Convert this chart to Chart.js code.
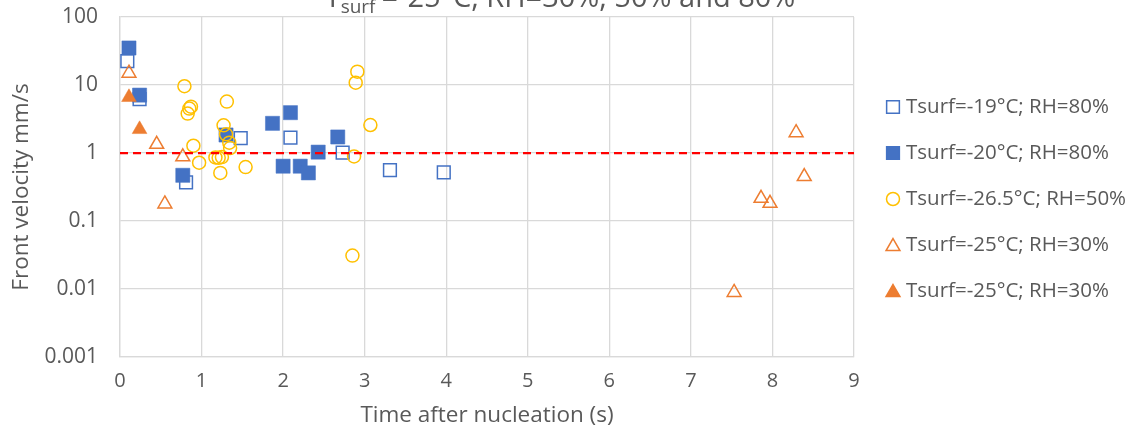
<!DOCTYPE html>
<html>
<head>
<meta charset="utf-8">
<script src="https://cdn.jsdelivr.net/npm/chart.js@4/dist/chart.umd.min.js"></script>
<style>
  html, body { margin: 0; padding: 0; background: #fff; overflow: hidden; }
  #wrap { position: relative; width: 1139px; height: 434px; }
</style>
</head>
<body>
<div id="wrap"><canvas id="c" width="1139" height="434"></canvas></div>
<script>
// Front velocity (mm/s) versus time after nucleation (s), one array per test condition
const t19rh80 = [0.09, 0.24, 0.81, 1.48, 2.09, 2.73, 3.31, 3.97];
const v19rh80 = [22.5, 6.2, 0.37, 1.66, 1.68, 1.01, 0.56, 0.52];

const t20rh80 = [0.11, 0.24, 0.77, 1.30, 1.87, 2.09, 2.00, 2.21, 2.31, 2.43, 2.67];
const v20rh80 = [35, 7.1, 0.47, 1.84, 2.73, 3.92, 0.64, 0.64, 0.51, 1.03, 1.72];

const t265rh50 = [0.79, 0.87, 0.85, 0.83, 1.31, 1.27, 1.30, 1.34, 1.35, 0.90, 0.97, 1.17, 1.21, 1.25, 1.23, 1.54, 2.87, 3.07, 2.91, 2.89, 2.85];
const v265rh50 = [9.6, 4.8, 4.5, 3.8, 5.7, 2.55, 1.88, 1.42, 1.18, 1.28, 0.72, 0.86, 0.85, 0.87, 0.51, 0.62, 0.89, 2.58, 15.7, 10.8, 0.031];

const t25rh30open = [0.11, 0.45, 0.77, 0.55, 7.53, 7.86, 7.97, 8.29, 8.39];
const v25rh30open = [14.9, 1.34, 0.88, 0.178, 0.0089, 0.216, 0.182, 1.99, 0.45];

const t25rh30fill = [0.11, 0.24];
const v25rh30fill = [6.6, 2.23];

// 1 mm/s reference level
const refT = [0, 9];
const refV = [1, 1];

const seriesLabels = [
  'Tsurf=-19°C; RH=80%',
  'Tsurf=-20°C; RH=80%',
  'Tsurf=-26.5°C; RH=50%',
  'Tsurf=-25°C; RH=30%',
  'Tsurf=-25°C; RH=30%'
];

const xTickLabels = ['0', '1', '2', '3', '4', '5', '6', '7', '8', '9'];
const yTickValues = [0.001, 0.01, 0.1, 1, 10, 100];
const yTickLabels = ['0.001', '0.01', '0.1', '1', '10', '100'];

const titleMain = 'T';
const titleSub = 'surf';
const titleRest = '=-25°C, RH=30%, 50% and 80%';
const xTitle = 'Time after nucleation (s)';
const yTitle = 'Front velocity mm/s';

const BLUE = '#4472C4', ORANGE = '#ED7D31', GOLD = '#FFC000', RED = '#FF0000';
const TEXT = '#595959', GRID = '#D9D9D9';
const FONT = "'Open Sans', 'DejaVu Sans', sans-serif";

const pts = (xs, ys) => xs.map((x, i) => ({ x: x, y: ys[i] }));

const datasets = [
  { label: seriesLabels[0], data: pts(t19rh80, v19rh80), pointStyle: 'rect', pointRadius: 9,
    backgroundColor: 'rgba(0,0,0,0)', borderColor: BLUE, pointBorderWidth: 1.5, order: 5 },
  { label: seriesLabels[1], data: pts(t20rh80, v20rh80), pointStyle: 'rect', pointRadius: 10,
    backgroundColor: BLUE, borderColor: BLUE, pointBorderWidth: 0.5, order: 4 },
  { label: seriesLabels[2], data: pts(t265rh50, v265rh50), pointStyle: 'circle', pointRadius: 6.5,
    backgroundColor: 'rgba(0,0,0,0)', borderColor: GOLD, pointBorderWidth: 1.5, order: 3 },
  { label: seriesLabels[3], data: pts(t25rh30open, v25rh30open), pointStyle: 'triangle', pointRadius: 8,
    backgroundColor: 'rgba(0,0,0,0)', borderColor: ORANGE, pointBorderWidth: 1.5, order: 2 },
  { label: seriesLabels[4], data: pts(t25rh30fill, v25rh30fill), pointStyle: 'triangle', pointRadius: 8.5,
    backgroundColor: ORANGE, borderColor: ORANGE, pointBorderWidth: 0.5, order: 1 },
  { label: '', data: pts(refT, refV), showLine: true, borderColor: RED, borderWidth: 2.25,
    borderDash: [8, 5], pointRadius: 0, order: 0, noLegend: true }
];

// Title with subscript, set partly above the top edge
const titlePlugin = {
  id: 'subTitle',
  afterDraw(chart) {
    const ctx = chart.ctx;
    ctx.save();
    ctx.fillStyle = TEXT;
    ctx.textBaseline = 'alphabetic';
    const big = '29px ' + FONT, small = '19px ' + FONT;
    ctx.font = big; const w1 = ctx.measureText(titleMain).width;
    const w3 = ctx.measureText(titleRest).width;
    ctx.font = small; const w2 = ctx.measureText(titleSub).width;
    const total = w1 + w2 + 6 + w3;
    let x = 560 - total / 2;
    const base = 7;
    ctx.font = big; ctx.fillText(titleMain, x, base); x += w1;
    ctx.font = small; ctx.fillText(titleSub, x, base + 6); x += w2 + 6;
    ctx.font = big; ctx.fillText(titleRest, x, base);
    ctx.restore();
  }
};

// Legend column on the right, built from the dataset styles
const legendPlugin = {
  id: 'sideLegend',
  afterDraw(chart) {
    const ctx = chart.ctx;
    ctx.save();
    ctx.font = '20.5px ' + FONT;
    ctx.textBaseline = 'middle';
    ctx.textAlign = 'left';
    let row = 0;
    chart.data.datasets.forEach(ds => {
      if (ds.noLegend) return;
      const y = 107 + row * 46;
      ctx.fillStyle = ds.backgroundColor;
      ctx.strokeStyle = ds.borderColor;
      ctx.lineWidth = 1.5;
      const r = ds.pointStyle === 'circle' ? 6.5 : (ds.pointStyle === 'rect' ? 9 : 8);
      Chart.helpers.drawPoint(ctx, { pointStyle: ds.pointStyle, radius: r, borderWidth: 1.5 }, 893, ds.pointStyle === 'triangle' ? y + 1.5 : y);
      ctx.fillStyle = TEXT;
      ctx.fillText(ds.label, 906, y);
      row++;
    });
    ctx.restore();
  }
};

new Chart(document.getElementById('c'), {
  type: 'scatter',
  data: { datasets: datasets },
  plugins: [titlePlugin, legendPlugin],
  options: {
    responsive: false,
    devicePixelRatio: 1,
    animation: false,
    layout: { autoPadding: false, padding: { top: 17, right: 285, left: 0, bottom: 0 } },
    plugins: { legend: { display: false }, tooltip: { enabled: false }, title: { display: false } },
    scales: {
      x: {
        type: 'linear', min: 0, max: 9,
        afterFit(s) { s.height = 77; s.paddingLeft = 0; s.paddingRight = 0; },
        grid: { color: GRID, lineWidth: 1.3, drawTicks: false },
        border: { color: GRID, width: 1.3 },
        ticks: { stepSize: 1, padding: 12, color: TEXT, font: { family: FONT, size: 20 },
          callback: (v) => xTickLabels[v] },
        title: { display: true, text: xTitle, color: TEXT, font: { family: FONT, size: 22.5 },
          padding: { top: 0, bottom: 5 } }
      },
      y: {
        type: 'logarithmic', min: 0.001, max: 100,
        afterFit(s) { s.width = 120; s.paddingTop = 0; s.paddingBottom = 0; },
        afterBuildTicks(s) { s.ticks = yTickValues.map(v => ({ value: v })); },
        grid: { color: GRID, lineWidth: 1.3, drawTicks: false },
        border: { color: GRID, width: 1.3 },
        ticks: { padding: 22, color: TEXT, font: { family: FONT, size: 21 },
          callback: (v) => { const i = yTickValues.indexOf(v); return i >= 0 ? yTickLabels[i] : ''; } },
        title: { display: true, text: yTitle, color: TEXT, font: { family: FONT, size: 22.5 },
          padding: { top: 8, bottom: 0 } }
      }
    }
  }
});
</script>
</body>
</html>
